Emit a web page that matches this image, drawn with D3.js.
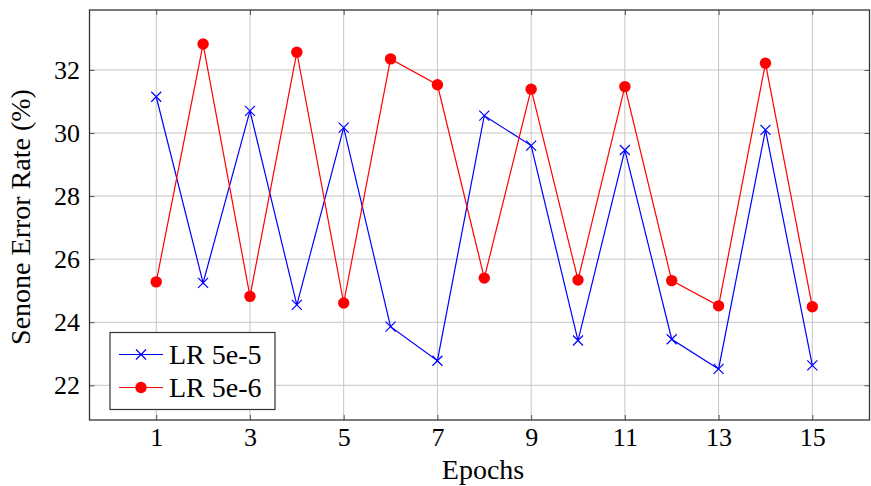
<!DOCTYPE html>
<html><head><meta charset="utf-8">
<script src="https://cdn.jsdelivr.net/npm/d3@7"></script>
<style>body{margin:0;background:#fff}svg{display:block}text{font-family:"Liberation Serif","DejaVu Serif","Times New Roman",serif;fill:#000}</style>
</head><body>
<svg id="c" width="871" height="486"></svg>
<script>
const epochs = [1,2,3,4,5,6,7,8,9,10,11,12,13,14,15];
const lr5e5 = [31.15,25.25,30.70,24.55,30.17,23.86,22.78,30.55,29.60,23.42,29.46,23.46,22.52,30.10,22.63];
const lr5e6 = [25.28,32.82,24.82,32.56,24.61,32.35,31.53,25.40,31.39,25.34,31.47,25.32,24.52,32.21,24.49];
const xTicks = [1,3,5,7,9,11,13,15];
const yTicks = [22,24,26,28,30,32];
const seriesNames = ["LR 5e-5","LR 5e-6"];

const FONT = '"Liberation Serif","DejaVu Serif","Times New Roman",serif';
const svg = d3.select("#c");
const L = 89.5, R = 869.5, T = 10, B = 420;
const x = d3.scaleLinear().domain([-0.424, 16.22]).range([L, R]);
const y = d3.scaleLinear().domain([20.9, 33.9]).range([B, T]);

// grid
const g = svg.append("g");
g.selectAll(".vg").data(xTicks).join("line")
  .attr("x1", d=>x(d)).attr("x2", d=>x(d)).attr("y1", T).attr("y2", B)
  .attr("stroke", "#c4c4c4").attr("stroke-width", 1);
g.selectAll(".hg").data(yTicks).join("line")
  .attr("y1", d=>y(d)).attr("y2", d=>y(d)).attr("x1", L).attr("x2", R)
  .attr("stroke", "#c4c4c4").attr("stroke-width", 1);

// axes via d3
const xAxisB = d3.axisBottom(x).tickValues(xTicks).tickSizeInner(-5).tickSizeOuter(0).tickPadding(8);
const xAxisT = d3.axisTop(x).tickValues(xTicks).tickSizeInner(-5).tickSizeOuter(0).tickFormat("");
const yAxisL = d3.axisLeft(y).tickValues(yTicks).tickSizeInner(-5).tickSizeOuter(0).tickPadding(9.5);
const yAxisR = d3.axisRight(y).tickValues(yTicks).tickSizeInner(-5).tickSizeOuter(0).tickFormat("");

function style(sel){
  sel.attr("font-family", FONT).attr("font-size", 26);
  sel.select(".domain").remove();
  sel.selectAll(".tick line").attr("stroke", "#555").attr("stroke-width", 1);
  sel.selectAll(".tick text").attr("font-size", 26).attr("font-family", FONT).attr("fill","#000");
}
svg.append("g").attr("transform", `translate(0,${B})`).call(xAxisB).call(style);
svg.append("g").attr("transform", `translate(0,${T})`).call(xAxisT).call(style);
svg.append("g").attr("transform", `translate(${L},0)`).call(yAxisL).call(style);
svg.append("g").attr("transform", `translate(${R},0)`).call(yAxisR).call(style);

// frame
svg.append("rect").attr("x", L).attr("y", T).attr("width", R-L).attr("height", B-T)
  .attr("fill", "none").attr("stroke", "#333").attr("stroke-width", 1.3);

// lines
const line = d3.line().x((d,i)=>x(epochs[i])).y(d=>y(d));
svg.append("path").datum(lr5e5).attr("d", line).attr("fill","none").attr("stroke","#0000ff").attr("stroke-width",1.2);
svg.append("path").datum(lr5e6).attr("d", line).attr("fill","none").attr("stroke","#ff0000").attr("stroke-width",1.2);

const cs = 5;
function cross(sel, cx, cy){
  sel.append("path").attr("d", `M${cx-cs},${cy-cs}L${cx+cs},${cy+cs}M${cx-cs},${cy+cs}L${cx+cs},${cy-cs}`)
    .attr("stroke","#0000ff").attr("stroke-width",1.2).attr("fill","none");
}
const mk = svg.append("g");
lr5e5.forEach((v,i)=>cross(mk, x(epochs[i]), y(v)));
mk.selectAll("circle").data(lr5e6).join("circle")
  .attr("cx",(d,i)=>x(epochs[i])).attr("cy", d=>y(d)).attr("r",5.7).attr("fill","#ff0000");

// legend
const lg = svg.append("g");
lg.append("rect").attr("x",110).attr("y",332.5).attr("width",165).attr("height",77)
  .attr("fill","#fff").attr("stroke","#333").attr("stroke-width",1.2);
const rows = [354.5, 387.5];
lg.append("line").attr("x1",119).attr("x2",163).attr("y1",rows[0]).attr("y2",rows[0]).attr("stroke","#0000ff").attr("stroke-width",1.2);
cross(lg, 141, rows[0]);
lg.append("line").attr("x1",119).attr("x2",163).attr("y1",rows[1]).attr("y2",rows[1]).attr("stroke","#ff0000").attr("stroke-width",1.2);
lg.append("circle").attr("cx",141).attr("cy",rows[1]).attr("r",5.7).attr("fill","#ff0000");
seriesNames.forEach((n,i)=>lg.append("text").attr("x",169).attr("y",rows[i]+9).attr("font-size",28).attr("font-family",FONT).text(n));

// titles
svg.append("text").attr("x", 483).attr("y", 479).attr("text-anchor","middle").attr("font-size",28).attr("font-family",FONT).text("Epochs");
svg.append("text").attr("transform", `translate(30,${(T+B)/2 + 2}) rotate(-90)`).attr("text-anchor","middle").attr("font-size",28).attr("font-family",FONT).text("Senone Error Rate (%)");
</script>
</body></html>
